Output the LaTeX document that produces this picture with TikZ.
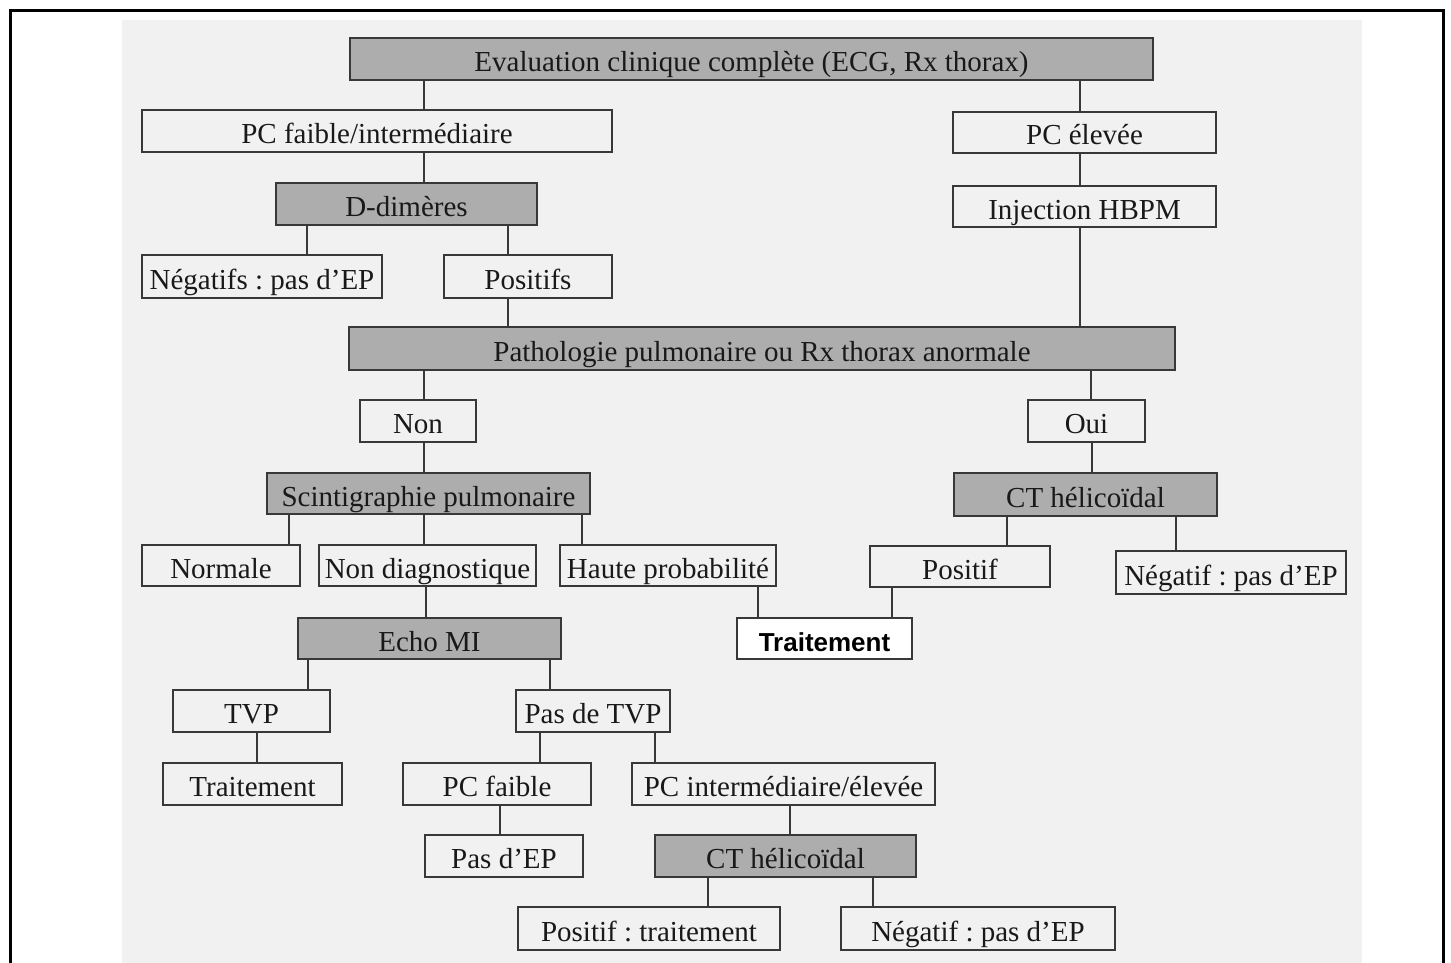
\documentclass[tikz,border=0pt]{standalone}
\usepackage{fontspec}
\setmainfont{Liberation Serif}
\newfontfamily\boldsans{Liberation Sans}
\frenchspacing
\definecolor{pagebg}{gray}{0.945}
\definecolor{boxgray}{gray}{0.68}
\definecolor{ink}{gray}{0.1}
\definecolor{edge}{gray}{0.22}
\tikzset{
  base/.style={draw=edge, line width=1.8pt, inner sep=0pt, text=ink,
    font=\frenchspacing\fontsize{29}{30}\selectfont, text height=25pt, text depth=0pt, anchor=center},
  graybox/.style={base, fill=boxgray},
  plainbox/.style={base, fill=pagebg},
  whitebox/.style={base, fill=white, text=black, font=\boldsans\bfseries\fontsize{26}{28}\selectfont},
  conn/.style={draw=edge, line width=1.8pt},
}
\newcommand\mkbox[7]{\node[#2, minimum width={#5-#3}, minimum height={#6-#4}] (#1) at ({(#3+#5)/2},{(#4+#6)/2}) {#7};}
\newcommand\vlink[3]{\draw[conn] (#1,0 |- #2.south) -- (#1,0 |- #3.north);}
\begin{document}
\begin{tikzpicture}[x=1pt,y=-1pt]
\useasboundingbox (0,0) rectangle (1451,963);
\fill[white] (0,0) rectangle (1451,963);
\fill[pagebg] (122,20) rectangle (1362,963);
\draw[line width=3pt, black] (10.5,963) -- (10.5,10.5) -- (1443,10.5) -- (1443,963);

\mkbox{ev}{graybox}{350}{38}{1153}{80}{Evaluation clinique complète (ECG, Rx thorax)}
\mkbox{pcf}{plainbox}{142}{110}{612}{152}{PC faible/intermédiaire}
\mkbox{pce}{plainbox}{953}{112}{1216}{153}{PC élevée}
\mkbox{dd}{graybox}{276}{183}{537}{225}{D-dimères}
\mkbox{inj}{plainbox}{953}{186}{1216}{227}{Injection HBPM}
\mkbox{neg1}{plainbox}{142}{255}{382}{298}{Négatifs : pas d’EP}
\mkbox{pos1}{plainbox}{444}{255}{612}{298}{Positifs}
\mkbox{path}{graybox}{349}{327}{1175}{370}{Pathologie pulmonaire ou Rx thorax anormale}
\mkbox{non}{plainbox}{360}{400}{476}{442}{Non}
\mkbox{oui}{plainbox}{1028}{400}{1145}{442}{Oui}
\mkbox{scint}{graybox}{267}{473}{590}{514}{Scintigraphie pulmonaire}
\mkbox{ctr}{graybox}{954}{473}{1217}{516}{CT hélicoïdal}
\mkbox{norm}{plainbox}{142}{545}{300}{586}{Normale}
\mkbox{nond}{plainbox}{319}{545}{536}{586}{Non diagnostique}
\mkbox{haute}{plainbox}{560}{545}{776}{586}{Haute probabilité}
\mkbox{posr}{plainbox}{870}{546}{1050}{587}{Positif}
\mkbox{negr}{plainbox}{1116}{551}{1346}{594}{Négatif : pas d’EP}
\mkbox{trt1}{whitebox}{737}{618}{912}{659}{Traitement}
\mkbox{echo}{graybox}{298}{618}{561}{659}{Echo MI}
\mkbox{tvp}{plainbox}{173}{690}{330}{732}{TVP}
\mkbox{pastvp}{plainbox}{516}{690}{670}{732}{Pas de TVP}
\mkbox{trt2}{plainbox}{163}{763}{342}{805}{Traitement}
\mkbox{pcf2}{plainbox}{403}{763}{591}{805}{PC faible}
\mkbox{pci}{plainbox}{632}{763}{935}{805}{PC intermédiaire/élevée}
\mkbox{pasep}{plainbox}{425}{835}{583}{877}{Pas d’EP}
\mkbox{ctb}{graybox}{655}{835}{916}{877}{CT hélicoïdal}
\mkbox{post}{plainbox}{518}{907}{780}{950}{Positif : traitement}
\mkbox{negb}{plainbox}{841}{907}{1115}{950}{Négatif : pas d’EP}

\vlink{424}{ev}{pcf}
\vlink{1080}{ev}{pce}
\vlink{424}{pcf}{dd}
\vlink{1080}{pce}{inj}
\vlink{307}{dd}{neg1}
\vlink{508}{dd}{pos1}
\vlink{508}{pos1}{path}
\vlink{1080}{inj}{path}
\vlink{424}{path}{non}
\vlink{1091}{path}{oui}
\vlink{424}{non}{scint}
\vlink{1092}{oui}{ctr}
\vlink{289}{scint}{norm}
\vlink{424}{scint}{nond}
\vlink{582}{scint}{haute}
\vlink{1007}{ctr}{posr}
\vlink{1176}{ctr}{negr}
\vlink{758}{haute}{trt1}
\vlink{892}{posr}{trt1}
\vlink{426}{nond}{echo}
\vlink{308}{echo}{tvp}
\vlink{550}{echo}{pastvp}
\vlink{257}{tvp}{trt2}
\vlink{540}{pastvp}{pcf2}
\vlink{655}{pastvp}{pci}
\vlink{500}{pcf2}{pasep}
\vlink{790}{pci}{ctb}
\vlink{708}{ctb}{post}
\vlink{873}{ctb}{negb}
\end{tikzpicture}
\end{document}
